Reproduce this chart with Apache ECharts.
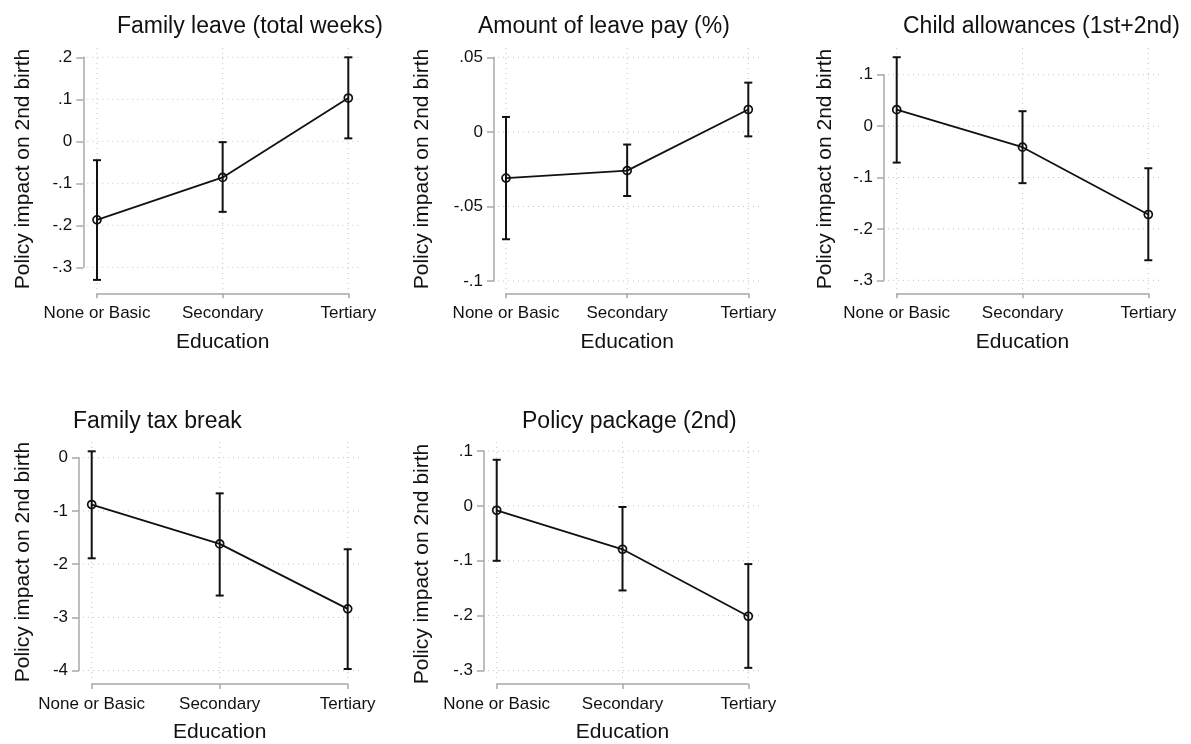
<!DOCTYPE html>
<html>
<head>
<meta charset="utf-8">
<script src="https://cdn.jsdelivr.net/npm/echarts@6/dist/echarts.min.js"></script>
<style>
  html, body { margin: 0; padding: 0; background: #fff; }
  #chart { width: 1191px; height: 744px; }
</style>
</head>
<body>
<div id="chart"></div>
<script>
// ---- data ----
const categories = ['None or Basic', 'Secondary', 'Tertiary'];
const panelTitles = ['Family leave (total weeks)', 'Amount of leave pay (%)', 'Child allowances (1st+2nd)', 'Family tax break', 'Policy package (2nd)'];
const yName = 'Policy impact on 2nd birth';
const xName = 'Education';

const yTicksLeave = [-0.3, -0.2, -0.1, 0, 0.1, 0.2];
const estLeave = [-0.187, -0.086, 0.103];
const loLeave = [-0.330, -0.168, 0.007];
const hiLeave = [-0.045, -0.002, 0.200];

const yTicksPay = [-0.1, -0.05, 0, 0.05];
const estPay = [-0.031, -0.026, 0.015];
const loPay = [-0.072, -0.043, -0.003];
const hiPay = [0.010, -0.0085, 0.033];

const yTicksAllow = [-0.3, -0.2, -0.1, 0, 0.1];
const estAllow = [0.032, -0.041, -0.172];
const loAllow = [-0.071, -0.111, -0.261];
const hiAllow = [0.134, 0.029, -0.082];

const yTicksTax = [-4, -3, -2, -1, 0];
const estTax = [-0.88, -1.62, -2.84];
const loTax = [-1.89, -2.59, -3.97];
const hiTax = [0.12, -0.67, -1.72];

const yTicksPkg = [-0.3, -0.2, -0.1, 0, 0.1];
const estPkg = [-0.008, -0.079, -0.201];
const loPkg = [-0.100, -0.154, -0.295];
const hiPkg = [0.084, -0.002, -0.106];

const panels = [
  { ticks: yTicksLeave, est: estLeave, lo: loLeave, hi: hiLeave },
  { ticks: yTicksPay, est: estPay, lo: loPay, hi: hiPay },
  { ticks: yTicksAllow, est: estAllow, lo: loAllow, hi: hiAllow },
  { ticks: yTicksTax, est: estTax, lo: loTax, hi: hiTax },
  { ticks: yTicksPkg, est: estPkg, lo: loPkg, hi: hiPkg }
];

// ---- layout (pixels) ----
const layout = [
  { left: 97,    top: 57.3,  width: 251.3, height: 210,   yOff: 13.7, xOff: 26,   padTop: 9.3,  titleLeft: 117, titleTop: 15,  nameX: 23,  nameY: 169 },
  { left: 506,   top: 57.3,  width: 242.3, height: 223.7, yOff: 12,   xOff: 12.3, padTop: 9.3,  titleLeft: 478, titleTop: 15,  nameX: 422, nameY: 169 },
  { left: 896.7, top: 74.7,  width: 251.6, height: 205.6, yOff: 12.7, xOff: 13,   padTop: 26.7, titleLeft: 903, titleTop: 15,  nameX: 825, nameY: 169 },
  { left: 91.7,  top: 457.7, width: 256,   height: 216.6, yOff: 12.7, xOff: 13.4, padTop: 15.7, titleLeft: 73,  titleTop: 410, nameX: 23,  nameY: 562 },
  { left: 496.7, top: 451,   width: 251.6, height: 223.3, yOff: 12.7, xOff: 13.4, padTop: 9,    titleLeft: 522, titleTop: 410, nameX: 422, nameY: 564 }
];

const FONT = "'Liberation Sans', Arial, sans-serif";
const INK = '#111';
const AXIS_GRAY = '#a8a8a8';
const GRID_GRAY = '#c4c4c4';

function stataLabel(v) {
  var n = Number(Number(v).toFixed(6));
  if (n === 0) return '0';
  return String(n).replace(/^(-?)0\./, '$1.');
}

const chart = echarts.init(document.getElementById('chart'), null, { renderer: 'canvas' });

const grids = [], xAxes = [], yAxes = [], series = [], titles = [], graphics = [];

panels.forEach(function (p, k) {
  var L = layout[k];
  var ticks = p.ticks;
  var step = Number((ticks[1] - ticks[0]).toFixed(6));

  grids.push({ left: L.left, top: L.top, width: L.width, height: L.height });

  xAxes.push({
    gridIndex: k,
    type: 'value',
    min: 0,
    max: categories.length - 1,
    interval: 1,
    offset: L.xOff,
    name: xName,
    nameLocation: 'middle',
    nameGap: 38,
    nameTextStyle: { fontFamily: FONT, fontSize: 21, color: INK },
    axisLine: { onZero: false, lineStyle: { color: AXIS_GRAY, width: 1.5 } },
    axisTick: { length: 5, lineStyle: { color: AXIS_GRAY, width: 1.5 } },
    axisLabel: {
      margin: 12,
      fontFamily: FONT, fontSize: 17, color: INK,
      formatter: function (v) { return categories[Math.round(v)]; }
    },
    splitLine: { show: false }
  });

  yAxes.push({
    gridIndex: k,
    type: 'value',
    min: ticks[0],
    max: ticks[ticks.length - 1],
    interval: step,
    offset: L.yOff,
    axisLine: { show: true, onZero: false, lineStyle: { color: AXIS_GRAY, width: 1.5 } },
    axisTick: { show: true, length: 7, lineStyle: { color: AXIS_GRAY, width: 1.5 } },
    axisLabel: {
      margin: 11,
      fontFamily: FONT, fontSize: 17, color: INK,
      formatter: stataLabel
    },
    splitLine: { show: false }
  });

  // dotted gridlines at tick values and categories, extending into the plot margin
  series.push({
    type: 'custom',
    xAxisIndex: k,
    yAxisIndex: k,
    silent: true,
    clip: false,
    z: 1,
    data: [[0, ticks[0]]],
    renderItem: function (params, api) {
      var cs = params.coordSys;
      var style = { stroke: GRID_GRAY, lineWidth: 1, lineDash: [1, 4], fill: null };
      var children = [];
      ticks.forEach(function (t) {
        var y = api.coord([0, t])[1];
        children.push({ type: 'line', shape: { x1: cs.x - L.yOff + 4, y1: y, x2: cs.x + cs.width + 13.5, y2: y }, style: style });
      });
      categories.forEach(function (c, i) {
        var x = api.coord([i, ticks[0]])[0];
        children.push({ type: 'line', shape: { x1: x, y1: cs.y - L.padTop, x2: x, y2: cs.y + cs.height + L.xOff - 3 }, style: style });
      });
      return { type: 'group', children: children };
    }
  });

  // confidence intervals
  series.push({
    type: 'custom',
    xAxisIndex: k,
    yAxisIndex: k,
    clip: false,
    z: 3,
    data: categories.map(function (c, i) { return [i, p.lo[i], p.hi[i]]; }),
    encode: { x: 0, y: [1, 2] },
    renderItem: function (params, api) {
      var x = api.value(0);
      var a = api.coord([x, api.value(1)]);
      var b = api.coord([x, api.value(2)]);
      var cap = 4;
      var style = { stroke: INK, lineWidth: 2, fill: null };
      return {
        type: 'group',
        children: [
          { type: 'line', shape: { x1: a[0], y1: a[1], x2: b[0], y2: b[1] }, style: style },
          { type: 'line', shape: { x1: a[0] - cap, y1: a[1], x2: a[0] + cap, y2: a[1] }, style: style },
          { type: 'line', shape: { x1: b[0] - cap, y1: b[1], x2: b[0] + cap, y2: b[1] }, style: style }
        ]
      };
    }
  });

  // point estimates, connected
  series.push({
    type: 'line',
    xAxisIndex: k,
    yAxisIndex: k,
    clip: false,
    z: 4,
    data: categories.map(function (c, i) { return [i, p.est[i]]; }),
    symbol: 'circle',
    symbolSize: 8,
    lineStyle: { color: INK, width: 1.8 },
    itemStyle: { color: 'rgba(0,0,0,0)', borderColor: INK, borderWidth: 1.7 },
    emphasis: { disabled: true },
    animation: false
  });

  titles.push({
    text: panelTitles[k],
    left: L.titleLeft,
    top: L.titleTop,
    padding: 0,
    textStyle: { fontFamily: FONT, fontSize: 23, fontWeight: 'normal', color: INK }
  });

  graphics.push({
    type: 'text',
    x: L.nameX,
    y: L.nameY,
    rotation: Math.PI / 2,
    style: {
      text: yName,
      font: '21px ' + FONT,
      fill: INK,
      textAlign: 'center',
      textVerticalAlign: 'middle'
    }
  });
});

chart.setOption({
  backgroundColor: '#fff',
  animation: false,
  title: titles,
  grid: grids,
  xAxis: xAxes,
  yAxis: yAxes,
  series: series,
  graphic: graphics
});
</script>
</body>
</html>
